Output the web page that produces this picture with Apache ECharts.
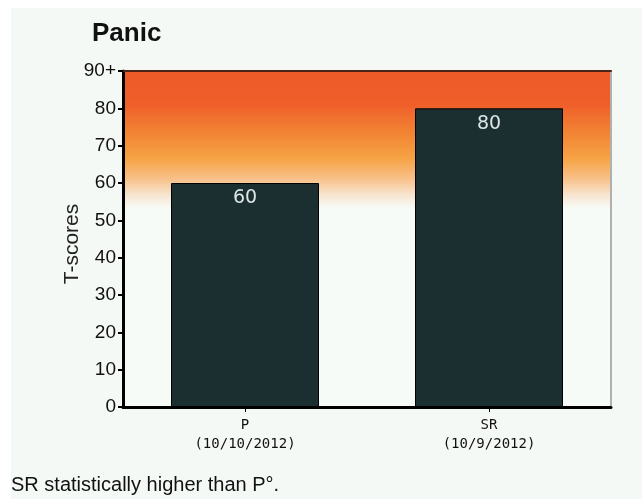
<!DOCTYPE html>
<html>
<head>
<meta charset="utf-8">
<script src="https://cdn.jsdelivr.net/npm/echarts@6/dist/echarts.min.js"></script>
<style>
html,body{margin:0;padding:0;background:#fff;}
#chart{width:642px;height:499px;}
</style>
</head>
<body>
<div id="chart"></div>
<script>
var categories = ['P\n(10/10/2012)', 'SR\n(10/9/2012)'];
var values = [60, 80];
var yTicks = [0, 10, 20, 30, 40, 50, 60, 70, 80, 90];
var titleText = 'Panic';
var yName = 'T-scores';
var footerText = 'SR statistically higher than P\u00b0.';

var chart = echarts.init(document.getElementById('chart'));
var tickFont = 'Liberation Sans, Arial, sans-serif';
chart.setOption({
  backgroundColor: '#ffffff',
  animation: false,
  title: {
    text: titleText, left: 87, top: 16,
    textStyle: { fontFamily: 'Liberation Sans, Arial, sans-serif', fontWeight: 'bold', fontSize: 26, color: '#111' }
  },
  graphic: [
    { type: 'rect', z: -10, shape: { x: 11, y: 8, width: 640, height: 500 }, style: { fill: '#f5f9f6' } },
    { type: 'text', left: 11, top: 475, style: { text: footerText, font: '20px "Liberation Sans", Arial, sans-serif', fill: '#111' } }
  ],
  grid: {
    left: 123, top: 71, right: 31, bottom: 92, show: true, borderWidth: 0,
    backgroundColor: {
      type: 'linear', x: 0, y: 0, x2: 0, y2: 1,
      colorStops: [
        { offset: 0, color: '#ee5a28' },
        { offset: 0.1, color: '#ef5f2a' },
        { offset: 0.18, color: '#f28233' },
        { offset: 0.26, color: '#f6a344' },
        { offset: 0.32, color: '#f8c088' },
        { offset: 0.37, color: '#f7e6d2' },
        { offset: 0.41, color: '#f7fbf8' },
        { offset: 1, color: '#f7fbf8' }
      ]
    }
  },
  xAxis: [{
    type: 'category', data: categories,
    axisLine: { lineStyle: { color: '#000', width: 3 } },
    axisTick: { show: true, alignWithLabel: true, length: 5, lineStyle: { color: '#000', width: 1 } },
    axisLabel: { margin: 9, fontFamily: 'DejaVu Sans Mono, monospace', fontSize: 14, lineHeight: 19, color: '#111' }
  }, {
    type: 'category', data: categories, position: 'top',
    axisLine: { onZero: false, lineStyle: { color: '#4a2418', width: 2 } },
    axisTick: { show: false }, axisLabel: { show: false }
  }],
  yAxis: [{
    type: 'value', min: 0, max: 90, interval: 10,
    name: yName, nameLocation: 'middle', nameGap: 40, nameRotate: 90, nameMoveOverlap: false,
    nameTextStyle: { fontFamily: 'Liberation Sans, Arial, sans-serif', fontSize: 21, color: '#222', padding: [0, 10, 0, 0] },
    axisLine: { show: true, lineStyle: { color: '#000', width: 3 } },
    axisTick: { show: true, length: 5, lineStyle: { color: '#000', width: 2 } },
    splitLine: { show: false },
    axisLabel: {
      margin: 7, fontFamily: tickFont, fontSize: 19, color: '#111',
      formatter: function (v) { return v === 90 ? '90+' : String(v); }
    }
  }, {
    type: 'value', min: 0, max: 90, interval: 10, position: 'right',
    axisLine: { show: true, onZero: false, lineStyle: { color: '#b0b0b0', width: 2 } },
    axisTick: { show: false }, axisLabel: { show: false }, splitLine: { show: false }
  }],
  series: [{
    type: 'bar', data: values, barWidth: 148,
    itemStyle: { color: '#1b2e30', borderColor: '#000', borderWidth: 1 },
    label: {
      show: true, position: 'insideTop', distance: 6,
      fontFamily: 'DejaVu Sans, sans-serif', fontSize: 19, color: '#dde6e6'
    }
  }]
});
</script>
</body>
</html>
